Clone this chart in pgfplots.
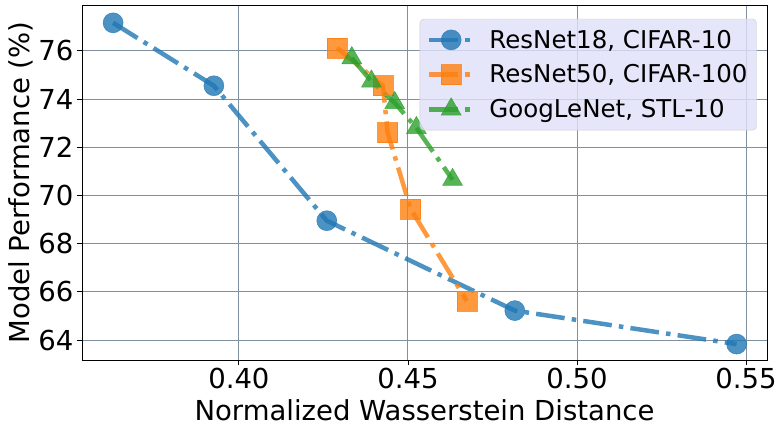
\documentclass[border=0pt]{standalone}
\usepackage{fontspec}
\setmainfont{DejaVu Sans}
\usepackage{pgfplots}
\pgfplotsset{compat=1.18}
\definecolor{c1}{HTML}{1F77B4}
\definecolor{c2}{HTML}{FF7F0E}
\definecolor{c3}{HTML}{2CA02C}
\definecolor{gridc}{RGB}{128,144,160}
\definecolor{legfill}{RGB}{224,224,250}
\definecolor{legdraw}{RGB}{204,204,204}
\begin{document}
\begin{tikzpicture}
\begin{axis}[
  scale only axis, width=685pt, height=355pt,
  xmin=0.3536, xmax=0.5562, ymin=63.17, ymax=77.9,
  enlargelimits=false,
  xtick={0.40,0.45,0.50,0.55}, ytick={64,66,68,70,72,74,76},
  xticklabel style={/pgf/number format/fixed, /pgf/number format/fixed zerofill, /pgf/number format/precision=2},
  /pgf/number format/assume math mode=true,
  tick label style={font=\fontsize{27.5}{32}\selectfont},
  label style={font=\fontsize{27.5}{32}\selectfont},
  xlabel={Normalized Wasserstein Distance},
  ylabel={Model Performance (\%)},
  xlabel style={at={(axis description cs:0.5,-0.141)}, anchor=center},
  ylabel style={at={(axis description cs:-0.089,0.5)}, anchor=center},
  xtick pos=bottom, ytick pos=left, tick align=outside,
  major tick length=5pt,
  tick style={black, line width=0.8pt},
  axis line style={black, line width=0.8pt},
  grid=major, major grid style={color=gridc, line width=0.9pt},
  legend cell align=left,
  legend style={at={(rel axis cs:0.985,0.961)}, anchor=north east,
    fill=legfill, fill opacity=0.8, text opacity=1, draw=legdraw,
    rounded corners=4pt, font=\fontsize{24.5}{29}\selectfont,
    row sep=11pt, inner xsep=7pt, inner ysep=9pt,
    /tikz/every odd column/.append style={column sep=13pt}},
  legend image code/.code={%
    \draw[mark repeat=2,mark phase=2,#1] plot coordinates {(0pt,0pt) (22pt,0pt) (43pt,0pt)};},
  every axis plot/.append style={line width=4.5pt, opacity=0.8,
    dash pattern=on 28.8pt off 7.2pt on 4.5pt off 7.2pt},
]
\addplot[color=c1, mark=*, mark size=10pt, mark options={solid, fill=c1, line width=0.5pt}]
  coordinates {(0.3628,77.16) (0.3926,74.55) (0.4260,68.95) (0.4816,65.22) (0.5472,63.83)};
\addlegendentry{ResNet18, CIFAR-10}
\addplot[color=c2, mark=square*, mark size=10pt, mark options={solid, fill=c2, line width=0.5pt}]
  coordinates {(0.4290,76.12) (0.4426,74.55) (0.4440,72.60) (0.4508,69.44) (0.4674,65.62)};
\addlegendentry{ResNet50, CIFAR-100}
\addplot[color=c3, mark=triangle*, mark size=11.5pt, mark options={solid, fill=c3, line width=0.5pt}]
  coordinates {(0.4334,75.70) (0.4392,74.73) (0.4461,73.84) (0.4525,72.80) (0.4632,70.65)};
\addlegendentry{GoogLeNet, STL-10}
\end{axis}
\pgfresetboundingbox
\path[use as bounding box] (-82pt,-74pt) rectangle (701pt,360pt);
\end{tikzpicture}
\end{document}
